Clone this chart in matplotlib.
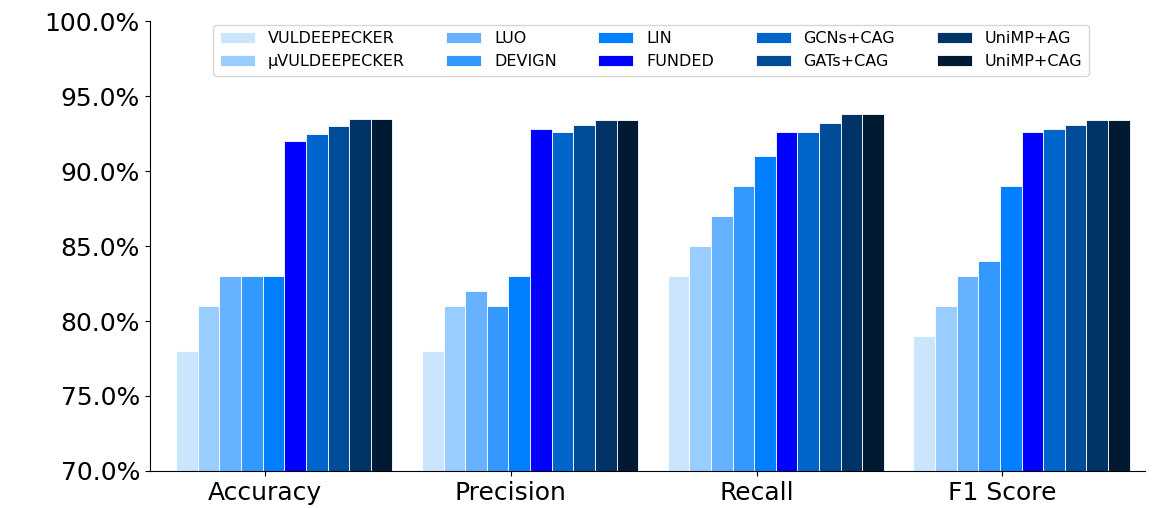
import matplotlib.pyplot as plt
import numpy as np
from matplotlib.ticker import FuncFormatter

metrics = ['Accuracy', 'Precision', 'Recall', 'F1 Score']
models = ['VULDEEPECKER', 'μVULDEEPECKER', 'LUO', 'DEVIGN', 'LIN',
          'FUNDED', 'GCNs+CAG', 'GATs+CAG', 'UniMP+AG', 'UniMP+CAG']
colors = ['#cce5ff', '#99ccff', '#66b2ff', '#3399ff', '#0080ff',
          '#0000ff', '#0066cc', '#004c99', '#003366', '#001a33']

# one list per model: Accuracy, Precision, Recall, F1 Score
vuldeepecker = [78.0, 78.0, 83.0, 79.0]
mu_vuldeepecker = [81.0, 81.0, 85.0, 81.0]
luo = [83.0, 82.0, 87.0, 83.0]
devign = [83.0, 81.0, 89.0, 84.0]
lin = [83.0, 83.0, 91.0, 89.0]
funded = [92.0, 92.8, 92.6, 92.6]
gcns_cag = [92.5, 92.6, 92.6, 92.8]
gats_cag = [93.0, 93.1, 93.2, 93.1]
unimp_ag = [93.5, 93.4, 93.8, 93.4]
unimp_cag = [93.5, 93.4, 93.8, 93.4]

values = [vuldeepecker, mu_vuldeepecker, luo, devign, lin,
          funded, gcns_cag, gats_cag, unimp_ag, unimp_cag]

fig, ax = plt.subplots(figsize=(11.6, 5.08), dpi=100)
fig.subplots_adjust(left=0.129, right=0.987, top=0.958, bottom=0.073)

x = np.arange(len(metrics))
width = 0.088
for i, (name, vals) in enumerate(zip(models, values)):
    offset = (i - 3.5) * width
    ax.bar(x + offset - 0.01, vals, width, label=name, color=colors[i],
           edgecolor='white', linewidth=0.6)

ax.set_ylim(70, 100)
ax.set_xlim(-0.47, 3.58)
ax.set_yticks(np.arange(70, 100.1, 5))
ax.yaxis.set_major_formatter(FuncFormatter(lambda v, p: f'{v:.1f}%'))
ax.set_xticks(x)
ax.set_xticklabels(metrics)
ax.tick_params(axis='y', labelsize=18)
ax.tick_params(axis='x', labelsize=18)
ax.spines['top'].set_visible(False)
ax.spines['right'].set_visible(False)

ax.legend(ncol=5, loc='upper left', bbox_to_anchor=(0.177, 0.967),
          bbox_transform=fig.transFigure, fontsize=11.5,
          handlelength=2.2, handletextpad=0.8, columnspacing=2.6,
          labelspacing=0.5, frameon=True)

plt.savefig('out.png', dpi=100)
